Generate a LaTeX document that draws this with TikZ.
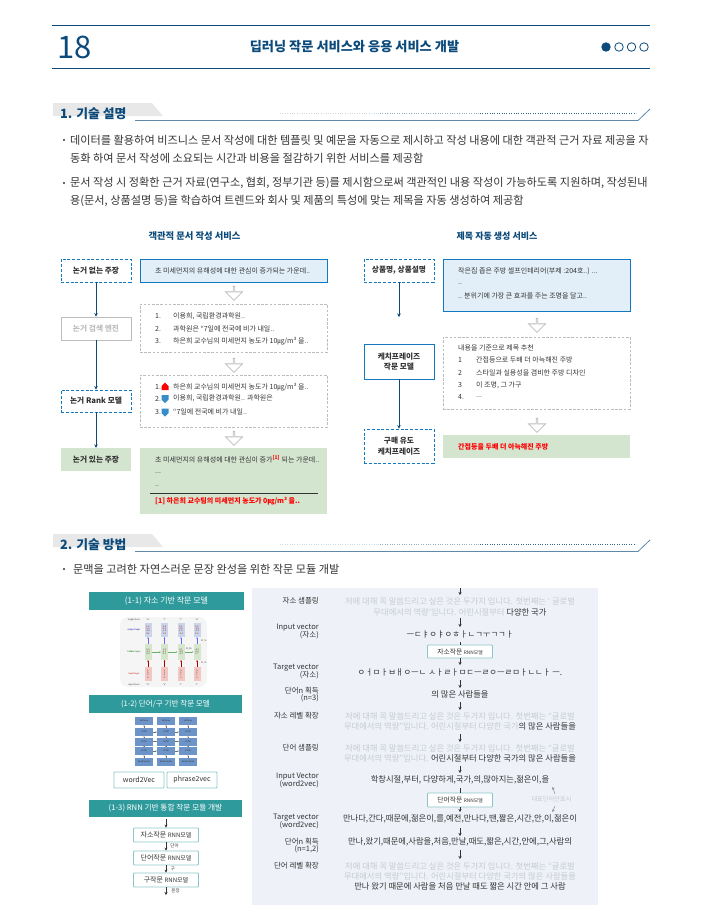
\documentclass[tikz,border=0pt]{standalone}
\usepackage{fontspec}
\setmainfont{Noto Sans CJK KR}
\usepackage{tikz}
\usetikzlibrary{arrows.meta,shapes.arrows}
\definecolor{navy}{HTML}{0B4A7A}
\definecolor{ink}{HTML}{333333}
\definecolor{boxblue}{HTML}{1279C0}
\definecolor{paleblue}{HTML}{E3EFF8}
\definecolor{palegreen}{HTML}{D3E4CF}
\definecolor{teal}{HTML}{2F9A9C}
\definecolor{panelbg}{HTML}{EEF1F7}
\definecolor{faint}{HTML}{C6CAD6}
\definecolor{wash}{HTML}{BDBDBD}
\definecolor{lstmblue}{HTML}{6D94C8}
\definecolor{outblue}{HTML}{C9D6EA}
\definecolor{hidgreen}{HTML}{D6E6CC}
\definecolor{inpred}{HTML}{F2C6C2}
\newcommand{\fsz}[1]{\fontsize{#1}{#1}\selectfont}
\newcommand{\pale}[1]{\textcolor{faint}{#1}}
\tikzset{
  txt/.style={anchor=west,inner sep=0pt,text=ink,font=\fsz{7}},
  bodytxt/.style={txt,font=\fsz{11.15}},
  lefttag/.style={minimum width=70pt,inner sep=0pt,align=center,text=ink,font=\fsz{7.7}\bfseries},
  dashtag/.style={lefttag,draw=boxblue,line width=.8pt,dash pattern=on 3pt off 1.8pt},
  solidtag/.style={lefttag,draw=boxblue,line width=.9pt},
  dashbox/.style={draw=wash,line width=.7pt,dash pattern=on 2.6pt off 1.6pt},
  hollow/.style={single arrow,draw=wash,line width=.8pt,fill=white,shape border rotate=270,inner sep=0pt,
    minimum height=14pt,minimum width=17pt,single arrow head extend=4pt,single arrow head indent=0pt},
  flow/.style={-{Stealth[length=3.5pt,width=3.5pt]},navy,line width=.8pt},
  small/.style={-{Stealth[length=3pt,width=3pt]},ink,line width=.6pt},
  banner/.style={fill=teal,text=white,inner sep=0pt,font=\fsz{8}},
  model/.style={draw=teal!55,line width=.8pt,fill=white,rounded corners=.8pt,inner sep=0pt,text=ink},
  tiny/.style={inner sep=0pt,text=ink,font=\fsz{2.2},align=center},
  sidelabel/.style={anchor=east,inner sep=0pt,align=right,text=ink,font=\fsz{7.5}},
  midline/.style={inner sep=0pt,text=ink,font=\fsz{8.3}},
}
\begin{document}
\begin{tikzpicture}[x=1pt,y=-1pt,>=Stealth]
  \useasboundingbox (0,0) rectangle (710,922);
  % header
  \draw[navy,line width=.9pt] (52,25.5) -- (650,25.5);
  \draw[navy,line width=.9pt] (52,68) -- (650,68);
  \node[inner sep=0pt,text=navy,font=\fsz{31}] (pagenum) at (74.5,47) {18};
  \node[inner sep=0pt,text=navy,font=\fsz{13.2}\bfseries] (pagetitle) at (354.5,47) {딥러닝 작문 서비스와 응용 서비스 개발};
  \node[circle,fill=navy,draw=navy,line width=.8pt,minimum size=8.5pt,inner sep=0pt] (dot1) at (606,47) {};
  \foreach \k/\x in {2/619,3/631.5,4/644}
    \node[circle,draw=navy,line width=.8pt,minimum size=8.5pt,inner sep=0pt] (dot\k) at (\x,47) {};
  % section bars
  \foreach \s/\n/\t in {0/one/{1. 기술 설명},431/two/{2. 기술 방법}}{
    \fill[black!9] (53,103+\s) -- (152,103+\s) -- (163,116+\s) -- (53,116+\s) -- cycle;
    \node[anchor=west,inner sep=0pt,text=navy,font=\fsz{12.8}\bfseries] (sec\n) at (60,114+\s) {\t};
    \draw[navy!65,line width=.8pt] (135,120.5+\s) -- (638,120.5+\s) -- (650,109+\s);
    \draw[navy!20,dotted] (280,113.5+\s) -- (380,113.5+\s);
    \draw[navy!45,dotted] (380,113.5+\s) -- (480,113.5+\s);
    \draw[navy!85,dotted] (480,113.5+\s) -- (636,113.5+\s);
  }
  % bullets
  \foreach \n/\x/\y/\t in {
    bl1/70/140/{데이터를 활용하여 비즈니스 문서 작성에 대한 템플릿 및 예문을 자동으로 제시하고 작성 내용에 대한 객관적 근거 자료 제공을 자},
    bl2/70/158/{동화 하여 문서 작성에 소요되는 시간과 비용을 절감하기 위한 서비스를 제공함},
    bl3/70/183/{문서 작성 시 정확한 근거 자료(연구소, 협회, 정부기관 등)를 제시함으로써 객관적인 내용 작성이 가능하도록 지원하며, 작성된내},
    bl4/70/201/{용(문서, 상품설명 등)을 학습하여 트렌드와 회사 및 제품의 특성에 맞는 제목을 자동 생성하여 제공함},
    bl5/73/569/{문맥을 고려한 자연스러운 문장 완성을 위한 작문 모듈 개발}}
    \node[bodytxt] (\n) at (\x,\y) {\t};
  \foreach \n/\x/\y in {mk1/64/140,mk2/64/183,mk3/64/569}
    \fill[ink] (\x,\y) circle (1.1pt);
  % left service
  \node[inner sep=0pt,text=navy,font=\fsz{9.3}\bfseries] (svcA) at (194.5,236) {객관적 문서 작성 서비스};
  \node[dashtag,minimum height=23pt] (claim) at (96,270.5) {논거 없는 주장};
  \node[lefttag,draw=wash,line width=.9pt,minimum height=23pt,text=wash] (engine) at (96,328.5) {논거 검색 엔진};
  \node[dashtag,minimum height=22pt] (rank) at (96,401) {논거  Rank 모델};
  \node[lefttag,fill=palegreen,minimum height=23pt] (proved) at (96,459.5) {논거 있는 주장};
  \draw[flow] (claim) -- (engine);
  \draw[flow] (engine) -- (rank);
  \draw[flow] (rank) -- (proved);
  \node[draw=boxblue,line width=.9pt,fill=paleblue,minimum width=187pt,minimum height=23pt,inner sep=0pt] (sentA) at (233.5,270.5) {};
  \node[dashbox,minimum width=187pt,minimum height=48pt,inner sep=0pt] (searchA) at (233.5,328) {};
  \node[dashbox,minimum width=187pt,minimum height=52pt,inner sep=0pt] (rankA) at (233.5,401) {};
  \node[fill=palegreen,minimum width=187pt,minimum height=66pt,inner sep=0pt] (resA) at (233.5,481) {};
  \node[hollow] (holA1) at (234,293) {};
  \node[hollow] (holA2) at (234,365) {};
  \node[hollow] (holA3) at (234,438) {};
  \foreach \n/\x/\y/\t in {
    a0/155/271/{초 미세먼지의 유해성에 대한 관심이 증가되는 가운데..},
    a1/155/316/{1.},a1t/173/316/{이용희, 국립환경과학원..},
    a2/155/329/{2.},a2t/173/329/{과학원은 “7일에 전국에 비가 내일..},
    a3/155/341/{3.},a3t/173/341/{하은희 교수님의 미세먼지 농도가 10㎍/m³ 을..},
    b1/155/387/{1.},b1t/173/387/{하은희 교수님의 미세먼지 농도가 10㎍/m³ 을..},
    b2/155/398.5/{2.},b2t/173/398.5/{이용희, 국립환경과학원.. 과학원은},
    b3/155/412/{3.},b3t/173/412/{“7일에 전국에 비가 내일..},
    c0/155/459/{초 미세먼지의 유해성에 대한 관심이 증가\textcolor{red}{\textsuperscript{\bfseries[1]}} 되는 가운데..},
    c1/155/473/{...},c2/155/486/{..}}
    \node[txt] (\n) at (\x,\y) {\t};
  \node[txt,text=red,font=\fsz{7}\bfseries] (c3) at (155,501) {[1] 하은희 교수팀의 미세먼지 농도가 0㎍/m³ 을..};
  \draw[ink,line width=.6pt] (150,493) -- (318,493);
  \fill[red] (161.5,390) -- (161.5,386) -- (165,382.5) -- (168.5,386) -- (168.5,390) -- cycle;
  \fill[boxblue!85] (161.5,395) -- (161.5,399.5) -- (165,403) -- (168.5,399.5) -- (168.5,395) -- cycle;
  \fill[boxblue!85] (161.5,408.5) -- (161.5,413) -- (165,416.5) -- (168.5,413) -- (168.5,408.5) -- cycle;
  % right service
  \node[inner sep=0pt,text=navy,font=\fsz{9}\bfseries] (svcB) at (497,236) {제목 자동 생성 서비스};
  \node[dashtag,minimum height=23pt] (item) at (399,270.5) {상품명, 상품설명};
  \node[solidtag,minimum height=35pt] (copy) at (399,361.5) {케치프레이즈\\[3pt]작문 모델};
  \node[dashtag,minimum height=34pt] (buy) at (399,446) {구매 유도\\[3pt]케치프레이즈};
  \coordinate (itemend) at (399,317);
  \draw[flow] (item) -- (itemend);
  \draw[flow] (copy) -- (buy);
  \node[draw=boxblue,line width=.9pt,fill=paleblue,minimum width=187pt,minimum height=52pt,inner sep=0pt] (sentB) at (536.5,285) {};
  \node[dashbox,minimum width=187pt,minimum height=72pt,inner sep=0pt] (recB) at (536.5,373) {};
  \node[fill=palegreen,minimum width=187pt,minimum height=23pt,inner sep=0pt] (resB) at (536.5,446.5) {};
  \node[hollow] (holB1) at (537,325) {};
  \node[hollow] (holB2) at (537,425) {};
  \foreach \n/\x/\y/\t in {
    d0/458/271/{작은집 좁은 주방 셀프인테리어(부제 :204호..) ...},d1/458/284/{..},
    d2/458/296/{.. 분위기에 가장 큰 효과를 주는 조명을 달고..},
    e0/458/348/{내용을 기준으로 제목 추천},
    e1/458/360/{1},e1t/476/360/{간접등으로 두배 더 아늑해진 주방},
    e2/458/373/{2},e2t/476/373/{스타일과 실용성을 겸비한 주방 디자인},
    e3/458/385/{3},e3t/476/385/{이 조명, 그 가구},
    e4/458/397/{4.},e4t/476/397/{...}}
    \node[txt] (\n) at (\x,\y) {\t};
  \node[txt,text=red,font=\fsz{7}\bfseries] (e5) at (458,447) {간접등을 두배 더 아늑해진 주방};
  % charts on the left
  \node[banner,minimum width=155pt,minimum height=18pt] (banA) at (166.5,601) {(1-1) 자소 기반 작문 모델};
  \fill[black!4,rounded corners=8pt] (120,617) rectangle (207,687);
  \foreach \k/\x/\a/\b/\ov/\hv/\iv in {
    1/148/e/h/{1.0\\2.2\\-3.0\\4.1}/{0.3\\-0.1\\0.9}/{1\\0\\0\\0},
    2/164.5/l/e/{0.5\\0.3\\-1.0\\1.2}/{1.0\\0.3\\0.1}/{0\\1\\0\\0},
    3/181/l/l/{0.1\\0.5\\1.9\\-1.1}/{0.1\\-0.5\\-0.3}/{0\\0\\1\\0},
    4/197/o/l/{0.2\\-1.5\\-0.1\\2.2}/{-0.3\\0.9\\0.7}/{0\\0\\1\\0}}{
    \node[tiny] (tc\k) at (\x,620) {“\a”};
    \node[tiny,fill=outblue,minimum width=7pt,minimum height=14pt,text=red!70!black] (out\k) at (\x,630) {\ov};
    \node[tiny,fill=hidgreen,minimum width=7pt,minimum height=16pt] (hid\k) at (\x,652) {\hv};
    \node[tiny,fill=inpred,minimum width=7pt,minimum height=14pt] (inp\k) at (\x,674) {\iv};
    \node[tiny] (ic\k) at (\x,684.5) {“\b”};
    \draw[-{Stealth[length=1.5pt,width=1.5pt]},red!70!black,line width=.3pt] (inp\k) -- (hid\k);
    \draw[-{Stealth[length=1.5pt,width=1.5pt]},blue!60,line width=.3pt] (hid\k) -- (out\k);
  }
  \foreach \p/\q in {1/2,2/3,3/4}
    \draw[-{Stealth[length=1.5pt,width=1.5pt]},green!50!black!60,line width=.3pt] (hid\p) -- (hid\q);
  \foreach \n/\y/\c/\t in {l1/620/ink/target chars,l2/630/blue!70!black/output layer,l3/652/green!40!black/hidden layer,l4/674/red!80!black/input layer,l5/684.5/ink/input chars}
    \node[tiny,text=\c] (\n) at (134,\y) {\t};
  \node[tiny] (whh) at (189,649) {W\_hh};
  \node[tiny,fill=white] (why) at (204,641) {W\_hy};
  \node[tiny,fill=white] (wxh) at (204,663) {W\_xh};
  \node[banner,minimum width=153pt,minimum height=18pt,font=\fsz{7.6}] (banB) at (165.5,704) {(1-2) 단어/구 기반 작문 모델};
  \foreach \k/\x in {1/144,2/166,3/188}{
    \foreach \r/\y/\t in {1/721/Softmax,2/732/LSTM,3/741.5/LSTM,4/751/LSTM,5/762/Word Vector}{
      \node[tiny,fill=lstmblue,minimum width=18pt,minimum height=8pt] (lst\k\r) at (\x,\y) {\t};
    }
    \foreach \p/\q in {5/4,4/3,3/2,2/1}
      \draw[-{Stealth[length=1.2pt,width=1.2pt]},ink!70,line width=.3pt] (lst\k\p) -- (lst\k\q);
  }
  \foreach \r in {2,3,4}{
    \draw[-{Stealth[length=1.2pt,width=1.2pt]},ink!70,line width=.3pt] (lst1\r) -- (lst2\r);
    \draw[-{Stealth[length=1.2pt,width=1.2pt]},ink!70,line width=.3pt] (lst2\r) -- (lst3\r);
  }
  \node[model,minimum width=50pt,minimum height=16pt,font=\fsz{7}] (wvec) at (139,780) {word2Vec};
  \node[model,minimum width=50pt,minimum height=16pt,font=\fsz{7}] (pvec) at (192,780) {phrase2vec};
  \node[banner,minimum width=153pt,minimum height=17pt,font=\fsz{7.7}] (banC) at (165.5,808.5) {(1-3) RNN 기반 통합 작문 모듈 개발};
  \node[model,minimum width=65pt,minimum height=14pt] (mjaso) at (166,835) {\fsz{7}자소작문 \fsz{6}RNN모델};
  \node[model,minimum width=65pt,minimum height=14pt] (mword) at (166,858) {\fsz{7}단어작문 \fsz{6}RNN모델};
  \node[model,minimum width=65pt,minimum height=14pt] (mphr) at (166,880) {\fsz{7}구작문 \fsz{6}RNN모델};
  \coordinate (mtop) at (166,819);
  \coordinate (mend) at (166,895);
  \draw[small] (mtop) -- (mjaso);
  \draw[small] (mjaso) -- (mword);
  \draw[small] (mword) -- (mphr);
  \draw[small] (mphr) -- (mend);
  \node[tiny,font=\fsz{4.5}] (lbw) at (174.5,846) {단어};
  \node[tiny,font=\fsz{4.5}] (lbg) at (173,868.5) {구};
  \node[tiny,font=\fsz{4.5}] (lbs) at (175.5,891) {문장};
  % panel on the right
  \fill[panelbg] (252,588) rectangle (598,905);
  \foreach \n/\y/\t in {
    s1/601/자소 샘플링,s2/631.5/{Input vector\\[-.5pt](자소)},s3/671.5/{Target vector\\[-.5pt](자소)},
    s4/695/{단어n 획득\\[-.5pt](n=3)},s5/716/자소 레벨 확장,s6/748/단어 샘플링,
    s7/780.5/{Input Vector\\[-.5pt](word2vec)},s8/821.5/{Target vector\\[-.5pt](word2vec)},
    s9/845.5/{단어n 획득\\[-.5pt](n=1,2)},s10/866/단어 레벨 확장}
    \node[sidelabel] (\n) at (319,\y) {\t};
  \foreach \n/\y/\t in {
    t1/601/{\pale{저에 대해 꼭 말씀드리고 싶은 것은 두가지 입니다. 첫번째는 ‘ 글로벌}},
    t2/612/{\pale{무대에서의 역량’입니다. 어린시절부터} 다양한 국가},
    t5/716/{\pale{저에 대해 꼭 말씀드리고 싶은 것은 두가지 입니다. 첫번째는 “글로벌}},
    t6/726/{\pale{무대에서의 역량”입니다. 어린시절부터 다양한 국가}의 많은 사람들을},
    t7/748/{\pale{저에 대해 꼭 말씀드리고 싶은 것은 두가지 입니다. 첫번째는 “글로벌}},
    t8/758/{\pale{무대에서의 역량”입니다.} 어린시절부터 다양한 국가의 많은 사람들을},
    t9/866/{\pale{저에 대해 꼭 말씀드리고 싶은 것은 두가지 입니다. 첫번째는 “글로벌}},
    t10/876/{\pale{무대에서의 역량”입니다. 어린시절부터 다양한 국가의 많은 사람들을}},
    t11/886/{만나 왔기 때문에 사람을 처음 만날 때도 짧은 시간 안에 그 사람},
    t12/694/{의 많은 사람들을},
    t13/780/{학창시절,부터, 다양하게,국가,의,많아지는,젊은이,을},
    t14/819/{만나다,간다,때문에,젊은이,를,예전,만나다,땐,짧은,시간,안,이,젊은이},
    t15/842/{만나,왔기,때문에,사람을,처음,만날,때도,짧은,시간,안에,그,사람의},
    t3/634/{ㅡㄷㅑㅇㅑㅇㅎㅏㄴㄱㅜㄱㄱㅏ},
    t4/672/{ㅇㅓㅁㅏㅂㅐㅇㅡㄴ ㅅㅏㄹㅏㅁㄷㅡㄹㅇㅡㄹㅁㅏㄴㄴㅏ ㅡ.}}
    \node[midline] (\n) at (460,\y) {\t};
  \node[model,minimum width=65pt,minimum height=13pt] (rnnA) at (460,651.5) {\fsz{6.8}자소작문 \fsz{4.8}RNN모델};
  \node[model,minimum width=65pt,minimum height=14pt] (rnnB) at (460,800) {\fsz{6.8}단어작문 \fsz{4.8}RNN모델};
  \foreach \k/\a/\b in {1/588/595,2/618/627,3/680/688,4/702/710,5/734/742,6/766/773,7/828/836,8/850/859}{
    \coordinate (pa\k) at (460,\a);
    \coordinate (pb\k) at (460,\b);
    \draw[small] (pa\k) -- (pb\k);
  }
  \coordinate (ra1) at (460,642);
  \coordinate (ra2) at (460,665);
  \coordinate (rb1) at (460,788);
  \coordinate (rb2) at (460,812);
  \draw[ink,line width=.6pt] (ra1) -- (rnnA);
  \draw[small] (rnnA) -- (ra2);
  \draw[ink,line width=.6pt] (rb1) -- (rnnB);
  \draw[small] (rnnB) -- (rb2);
  \node[inner sep=0pt,text=faint,font=\fsz{6.2}] (note) at (551.5,799) {대표단어만표시};
  \coordinate (nt1) at (555,794);
  \coordinate (nt2) at (552.5,787);
  \coordinate (nt3) at (555,806);
  \coordinate (nt4) at (552.5,812);
  \draw[-{Stealth[length=2.5pt,width=2.5pt]},black!45,line width=.5pt] (nt1) -- (nt2);
  \draw[-{Stealth[length=2.5pt,width=2.5pt]},black!45,line width=.5pt] (nt3) -- (nt4);
\end{tikzpicture}
\end{document}
